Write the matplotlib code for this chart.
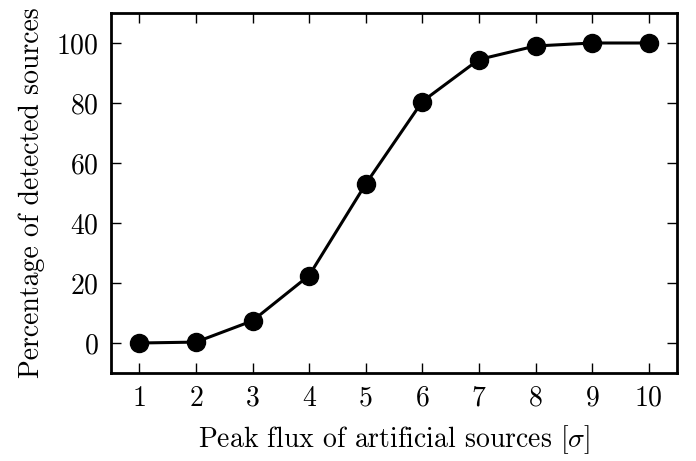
import matplotlib
matplotlib.use("Agg")
import matplotlib.pyplot as plt

plt.rcParams['font.family'] = 'serif'
plt.rcParams['font.serif'] = ['cmr10']
plt.rcParams['mathtext.fontset'] = 'cm'
plt.rcParams['axes.formatter.use_mathtext'] = True

peak_flux = [1, 2, 3, 4, 5, 6, 7, 8, 9, 10]
percent_detected = [0.0, 0.3, 7.4, 22.5, 53.0, 80.5, 94.5, 99.0, 100.0, 100.0]
xticks = [1, 2, 3, 4, 5, 6, 7, 8, 9, 10]
yticks = [0, 20, 40, 60, 80, 100]

fig = plt.figure(figsize=(6.96, 4.61), dpi=100)
ax = fig.add_axes([111/696, 1 - 373/461, (677-111)/696, (373-13)/461])
ax.plot(peak_flux, percent_detected, '-o', color='black', lw=2.2, ms=13)
ax.set_xlim(0.5, 10.5)
ax.set_ylim(-10, 110)
ax.set_xticks(xticks)
ax.set_yticks(yticks)
ax.tick_params(direction='in', length=7, width=1, top=True, right=True, labelsize=20, pad=9)
for s in ax.spines.values():
    s.set_linewidth(2)
ax.set_xlabel(r'Peak flux of artificial sources $[\sigma]$', fontsize=20, labelpad=8)
ax.set_ylabel('Percentage of detected sources', fontsize=20, labelpad=8)
fig.savefig('out.png', dpi=100)
